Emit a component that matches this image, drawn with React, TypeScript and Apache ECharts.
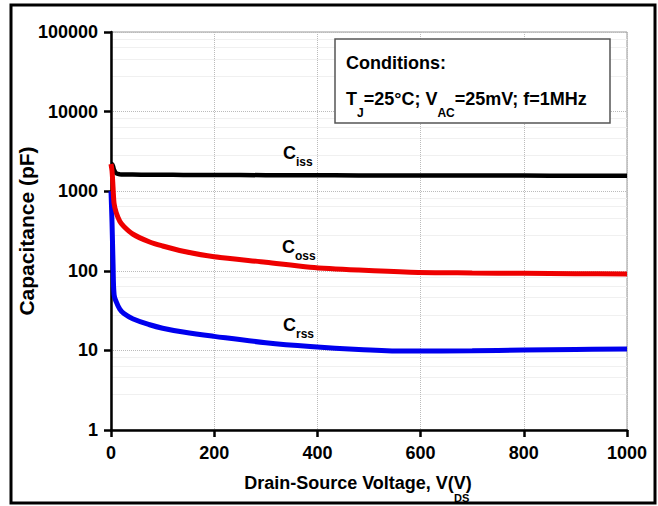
import React, { useEffect, useRef } from "react";
import * as echarts from "echarts";

const voltage = [0, 2, 4, 6, 10, 17, 25, 42, 75, 100, 140, 200, 300, 386, 480, 580, 700, 800, 900, 1000];
const ciss = [2200, 2180, 2050, 1850, 1680, 1630, 1620, 1620, 1610, 1610, 1600, 1600, 1590, 1590, 1580, 1580, 1570, 1570, 1560, 1560];
const coss = [2200, 1800, 1100, 700, 540, 420, 360, 290, 230, 205, 176, 150, 128, 111, 102, 96, 94, 93, 92, 91];
const crss = [1000, 400, 120, 50, 41, 33, 29, 25, 21, 19, 17, 15, 12.5, 11.2, 10.3, 9.8, 9.9, 10.1, 10.3, 10.4];
const xTicks = [0, 200, 400, 600, 800, 1000];
const yTicks = [1, 10, 100, 1000, 10000, 100000];

const FONT = "Liberation Sans, Arial, sans-serif";

const pairs = (ys: number[]) => voltage.map((v, i) => [v, ys[i]]);

export default function App() {
  const ref = useRef<HTMLDivElement>(null);
  useEffect(() => {
    if (!ref.current) return;
    const chart = echarts.init(ref.current, undefined, { renderer: "svg" });
    const subRich = {
      rich: {
        m: { fontSize: 18, fontWeight: "bold", fontFamily: FONT, fill: "#000", lineHeight: 30 },
        s: { fontSize: 12, fontWeight: "bold", fontFamily: FONT, fill: "#000", lineHeight: 12, verticalAlign: "bottom" },
      },
    };
    chart.setOption({
      animation: false,
      backgroundColor: "#fff",
      grid: {
        left: 111, right: 31, top: 32, bottom: 76,
        show: true, borderColor: "#999", borderWidth: 1,
        containLabel: false, outerBoundsMode: "none",
      },
      xAxis: {
        type: "value",
        min: xTicks[0],
        max: xTicks[xTicks.length - 1],
        interval: 200,
        name: "Drain-Source Voltage, V(V)",
        nameLocation: "middle",
        nameGap: 44,
        nameMoveOverlap: false,
        nameTextStyle: { fontSize: 18, fontWeight: "bold", fontFamily: FONT, color: "#000", padding: [0, 22, 0, 0] },
        axisLine: { show: true, onZero: false, lineStyle: { color: "#000", width: 2.5 } },
        axisTick: { show: true, inside: false, length: 7, lineStyle: { color: "#000", width: 2.5 } },
        axisLabel: { margin: 14, fontSize: 18, fontWeight: "bold", fontFamily: FONT, color: "#000", formatter: (v: number) => String(v) },
        splitLine: { show: true, lineStyle: { color: "#bbb", type: "dotted", width: 1 } },
      },
      yAxis: {
        type: "log",
        logBase: 10,
        min: yTicks[0],
        max: yTicks[yTicks.length - 1],
        name: "Capacitance (pF)",
        nameLocation: "middle",
        nameRotate: 90,
        nameGap: 74,
        nameMoveOverlap: false,
        nameTextStyle: { fontSize: 21, fontWeight: "bold", fontFamily: FONT, color: "#000" },
        axisLine: { show: true, lineStyle: { color: "#000", width: 2.5 } },
        axisTick: { show: true, inside: false, length: 7, lineStyle: { color: "#000", width: 2.5 } },
        axisLabel: { margin: 13, fontSize: 18, fontWeight: "bold", fontFamily: FONT, color: "#000", formatter: (v: number) => String(Math.round(v)) },
        splitLine: { show: true, lineStyle: { color: "#bbb", type: "dotted", width: 1 } },
        minorTick: { show: false, splitNumber: 5 },
        minorSplitLine: { show: true, lineStyle: { color: "#f0f0f0", width: 1 } },
      },
      series: [
        { name: "Ciss", type: "line", data: pairs(ciss), showSymbol: false, smooth: 0.3, lineStyle: { color: "#000", width: 4.5 }, z: 3 },
        { name: "Crss", type: "line", data: pairs(crss), showSymbol: false, smooth: 0.4, lineStyle: { color: "#0000ee", width: 5 }, z: 4 },
        { name: "Coss", type: "line", data: pairs(coss), showSymbol: false, smooth: 0.3, lineStyle: { color: "#ee0000", width: 5 }, z: 5 },
      ],
      graphic: [
        { type: "rect", shape: { x: 11, y: 5, width: 644, height: 498 }, style: { fill: "none", stroke: "#000", lineWidth: 3 }, z: 100 },
        { type: "rect", shape: { x: 335, y: 39, width: 275, height: 84 }, style: { fill: "#fff", stroke: "#555", lineWidth: 1.5 }, z: 50 },
        { type: "text", x: 346, y: 63, style: { text: "Conditions:", fontSize: 18, fontWeight: "bold", fontFamily: FONT, fill: "#000", verticalAlign: "middle" }, z: 51 },
        {
          type: "text", x: 346, y: 99, z: 51,
          style: {
            text: "{m|T}{s|J}{m|=25°C; V}{s|AC}{m|=25mV; f=1MHz}",
            verticalAlign: "middle",
            rich: {
              m: { fontSize: 18, fontWeight: "bold", fontFamily: FONT, fill: "#000", lineHeight: 40 },
              s: { fontSize: 12, fontWeight: "bold", fontFamily: FONT, fill: "#000", lineHeight: 12, verticalAlign: "bottom" },
            },
          },
        },
        { type: "text", x: 283, y: 153, z: 20, style: { text: "{m|C}{s|iss}", verticalAlign: "middle", ...subRich } },
        { type: "text", x: 282, y: 247, z: 20, style: { text: "{m|C}{s|oss}", verticalAlign: "middle", ...subRich } },
        { type: "text", x: 283, y: 325, z: 20, style: { text: "{m|C}{s|rss}", verticalAlign: "middle", ...subRich } },
        { type: "text", x: 454, y: 497.5, z: 20, style: { text: "DS", fontSize: 11, fontWeight: "bold", fontFamily: FONT, fill: "#000", verticalAlign: "middle" } },
      ],
    });
    return () => chart.dispose();
  }, []);
  return <div ref={ref} style={{ position: "absolute", left: 0, top: 0, width: 658, height: 506 }} />;
}
